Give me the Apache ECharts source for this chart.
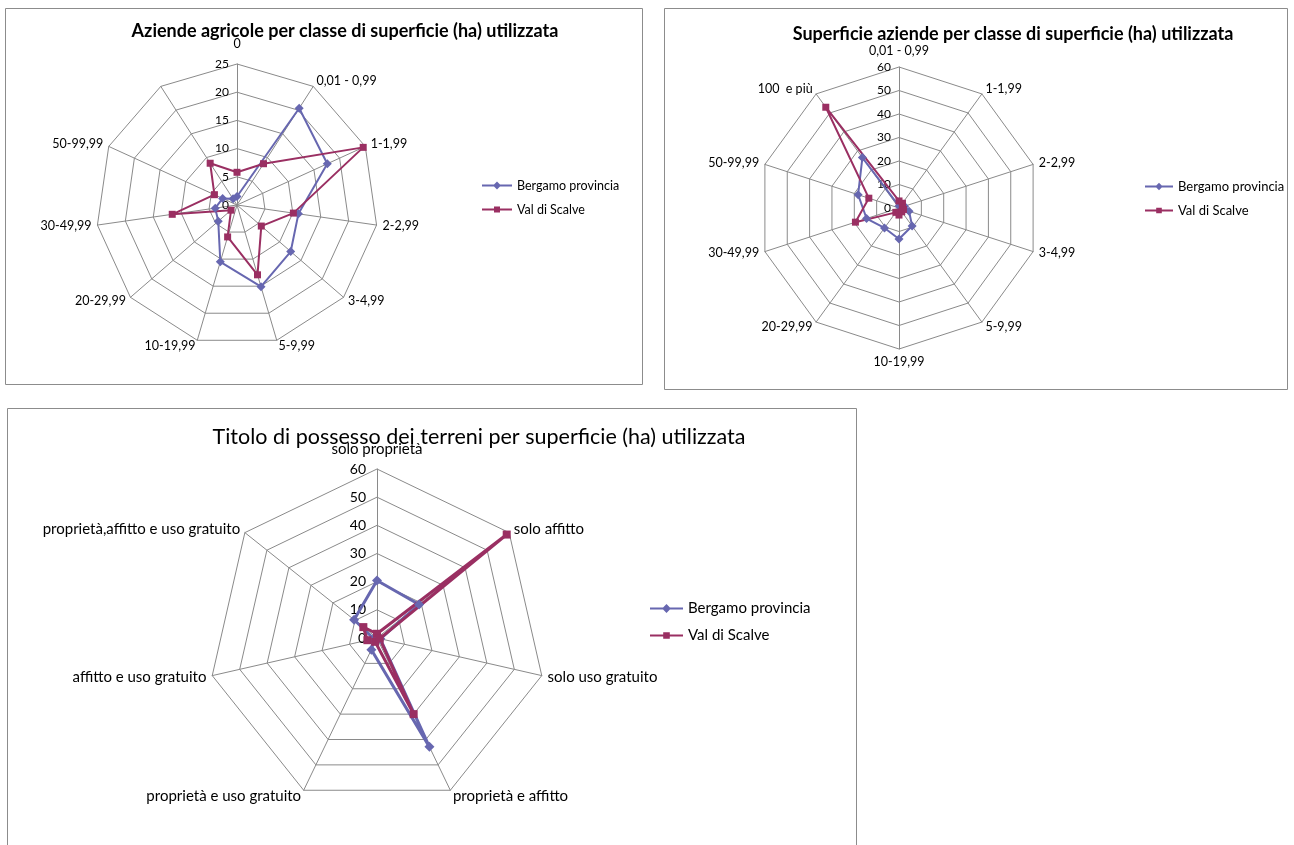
<!DOCTYPE html>
<html><head><meta charset="utf-8">
<script src="https://cdn.jsdelivr.net/npm/echarts@6/dist/echarts.min.js"></script>
<style>html,body{margin:0;padding:0;background:#fff}#c{width:1294px;height:845px}</style>
</head><body><div id="c"></div>
<script>
// ---- Data ----
const seriesNames = ['Bergamo provincia', 'Val di Scalve'];

const cats1 = ['0', '0,01 - 0,99', '1-1,99', '2-2,99', '3-4,99', '5-9,99', '10-19,99', '20-29,99', '30-49,99', '50-99,99', ''];
const berg1 = [1.5, 20.4, 17.6, 11.0, 12.6, 15.1, 10.5, 4.4, 3.9, 2.8, 1.3];
const scalve1 = [5.8, 8.7, 24.6, 10.1, 5.7, 12.9, 5.9, 1.4, 11.6, 4.4, 8.8];
const max1 = 25;

const cats2 = ['0,01 - 0,99', '1-1,99', '2-2,99', '3-4,99', '5-9,99', '10-19,99', '20-29,99', '30-49,99', '50-99,99', '100  e più'];
const berg2 = [0.8, 1.5, 2.5, 4.5, 9.5, 13.2, 10.5, 14.5, 18.3, 26.5];
const scalve2 = [3, 2.5, 1.5, 2, 2, 3, 2.3, 19.5, 13.5, 53];
const max2 = 60;

const cats3 = ['solo proprietà', 'solo affitto', 'solo uso gratuito', 'proprietà e affitto', 'proprietà e uso gratuito', 'affitto e uso gratuito', 'proprietà,affitto e uso gratuito'];
const berg3 = [20.4, 19.1, 1.2, 42.9, 4.6, 1.2, 10.4];
const scalve3 = [1.5, 58.9, 1.0, 30.0, 1.5, 3.5, 6.2];
const max3 = 60;

const titles = [
  'Aziende agricole per classe di superficie (ha) utilizzata',
  'Superficie aziende per classe di superficie (ha) utilizzata',
  'Titolo di possesso dei terreni per superficie (ha) utilizzata'
];

// ---- Helpers ----
const FONT = 'Lato, "Open Sans", sans-serif';
const BLUE = '#6767b0';
const RED = '#9a2f62';
const GRID = '#8a8a8a';

// ECharts radar runs counter-clockwise; reorder so the chart reads clockwise
function cw(arr) { return [arr[0]].concat(arr.slice(1).reverse()); }

function makeRadar(cats, max, split, center, radius, nameSize, labelSize, labelMargin, topPad) {
  const ordered = cw(cats);
  const ind = ordered.map((c, i) => {
    const o = { name: c, max: max, min: 0 };
    if (i === 0) o.axisLabel = { show: true, fontSize: labelSize, color: '#000', fontFamily: FONT, margin: labelMargin };
    return o;
  });
  return {
    center: center, radius: radius, startAngle: 90, splitNumber: split, shape: 'polygon',
    indicator: ind,
    axisName: {
      color: '#000', fontSize: nameSize, fontFamily: FONT,
      formatter: function (name) { return name === ordered[0] ? '{t|' + name + '}' : name; },
      rich: { t: { fontSize: nameSize, fontFamily: FONT, color: '#000', padding: [0, 0, topPad, 0] } }
    },
    nameGap: 6,
    splitLine: { lineStyle: { color: GRID, width: 1 } },
    splitArea: { show: false },
    axisLine: { lineStyle: { color: GRID, width: 1 } },
    axisTick: { show: false },
    axisLabel: { show: false }
  };
}

const diamondIcon = 'path://M0,3 L30,3 L30,5 L0,5 Z M15,0 L19,4 L15,8 L11,4 Z';
const squareIcon = 'path://M0,3 L30,3 L30,5 L0,5 Z M12,1 L18,1 L18,7 L12,7 Z';

function makeSeries(idx, b, s, lw, sym) {
  return {
    type: 'radar', radarIndex: idx, silent: true,
    data: [
      { name: seriesNames[0], value: cw(b), symbol: 'diamond', symbolSize: sym + 2,
        itemStyle: { color: BLUE }, lineStyle: { color: BLUE, width: lw } },
      { name: seriesNames[1], value: cw(s), symbol: 'rect', symbolSize: sym,
        itemStyle: { color: RED }, lineStyle: { color: RED, width: lw } }
    ]
  };
}

function makeLegend(left, top, size, gap, iw, ih) {
  return {
    orient: 'vertical', left: left, top: top, itemGap: gap, itemWidth: iw, itemHeight: ih,
    textStyle: { fontSize: size, color: '#000', fontFamily: FONT },
    selectedMode: false, padding: 0,
    data: [
      { name: seriesNames[0], icon: diamondIcon, itemStyle: { color: BLUE } },
      { name: seriesNames[1], icon: squareIcon, itemStyle: { color: RED } }
    ]
  };
}

const chart = echarts.init(document.getElementById('c'));
chart.setOption({
  backgroundColor: '#fff',
  animation: false,
  title: [
    { text: titles[0], left: 340, top: 17, textAlign: 'center', textStyle: { fontSize: 18, fontWeight: 'bold', color: '#000', fontFamily: FONT } },
    { text: titles[1], left: 1008, top: 20, textAlign: 'center', textStyle: { fontSize: 18, fontWeight: 'bold', color: '#000', fontFamily: FONT } },
    { text: titles[2], left: 474, top: 421, textAlign: 'center', textStyle: { fontSize: 21.5, fontWeight: 'normal', color: '#000', fontFamily: FONT } }
  ],
  legend: [
    makeLegend(482, 179, 12.5, 11, 30, 8),
    makeLegend(1145, 180, 13, 11, 28, 8),
    makeLegend(650, 601, 15, 12, 33, 9)
  ],
  radar: [
    makeRadar(cats1, max1, 5, [237, 205], 141, 12.5, 12, 8, 8),
    makeRadar(cats2, max2, 6, [899, 208], 141, 12.5, 12, 8, 4),
    makeRadar(cats3, max3, 6, [377, 638], 169, 15, 14, 11, 6)
  ],
  series: [
    makeSeries(0, berg1, scalve1, 2, 7),
    makeSeries(1, berg2, scalve2, 2, 7),
    makeSeries(2, berg3, scalve3, 3, 8)
  ],
  graphic: [
    { type: 'rect', shape: { x: 5.5, y: 8.5, width: 637, height: 376 }, style: { fill: null, stroke: '#8c8c8c', lineWidth: 1 }, silent: true },
    { type: 'rect', shape: { x: 664.5, y: 8.5, width: 623, height: 381 }, style: { fill: null, stroke: '#8c8c8c', lineWidth: 1 }, silent: true },
    { type: 'rect', shape: { x: 7.5, y: 408.5, width: 849, height: 450 }, style: { fill: null, stroke: '#8c8c8c', lineWidth: 1 }, silent: true }
  ]
});
</script></body></html>
